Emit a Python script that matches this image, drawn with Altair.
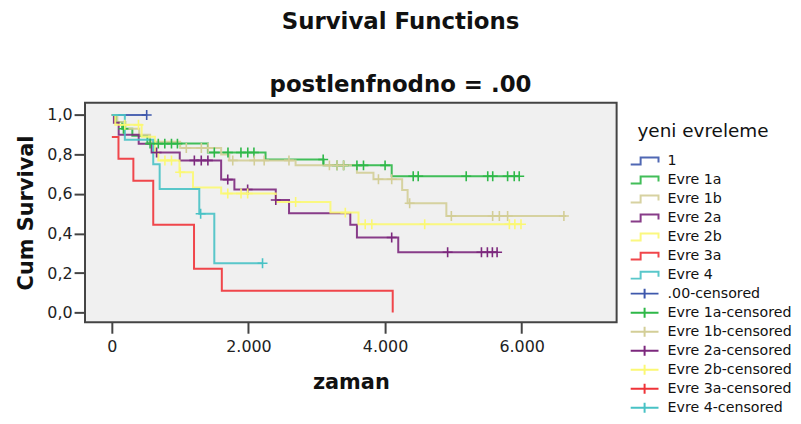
import altair as alt
import pandas as pd

groups = ["1", "Evre 1a", "Evre 1b", "Evre 2a", "Evre 2b", "Evre 3a", "Evre 4"]
censor_labels = [".00-censored", "Evre 1a-censored", "Evre 1b-censored", "Evre 2a-censored",
                 "Evre 2b-censored", "Evre 3a-censored", "Evre 4-censored"]
colors = ["#3E58AC", "#2EB848", "#D3CE97", "#7C287D", "#FBF873", "#EF3338", "#48C2C5"]

# step curves: event times and survival after each time
t_1 = [0, 510]
s_1 = [1.0, 1.0]
c_1 = [510]

t_1a = [0, 60, 150, 300, 520, 1406, 2250, 3100, 4097, 5964]
s_1a = [1.0, 0.965, 0.93, 0.895, 0.855, 0.81, 0.775, 0.745, 0.69, 0.69]
c_1a = [170, 560, 680, 775, 873, 960, 1500, 1700, 1890, 1990, 2080, 3094, 3297, 3393,
        3588, 3684, 4000, 4412, 4485, 5188, 5503, 5576, 5794, 5891, 5964]

t_1b = [0, 80, 200, 400, 560, 1000, 1600, 1720, 2690, 3588, 3830, 4250, 4330, 4897, 6650]
s_1b = [1.0, 0.965, 0.93, 0.9, 0.865, 0.833, 0.80, 0.77, 0.745, 0.707, 0.675, 0.62, 0.553, 0.489, 0.489]
c_1b = [1090, 1310, 1410, 1770, 2085, 2230, 2593, 3185, 3297, 3393, 3903, 4097, 4360,
        4970, 5575, 5673, 5794, 6618]

t_2a = [0, 30, 100, 393, 582, 994, 1600, 1794, 2400, 2594, 3491, 3588, 4193, 5640]
s_2a = [1.0, 0.96, 0.9, 0.854, 0.81, 0.77, 0.673, 0.623, 0.57, 0.503, 0.444, 0.38, 0.305, 0.305]
c_2a = [655, 1208, 1309, 1406, 1697, 1988, 2400, 4097, 4916, 5411, 5498, 5571, 5640]

t_2b = [0, 50, 436, 630, 680, 990, 1188, 1600, 2400, 3200, 3611, 6000]
s_2b = [1.0, 0.95, 0.89, 0.81, 0.77, 0.71, 0.633, 0.603, 0.56, 0.506, 0.447, 0.447]
c_2b = [190, 390, 777, 873, 1000, 1697, 1891, 1988, 2691, 3418, 3709, 3806, 4580, 5820, 5900, 5990]

t_3a = [0, 97, 315, 606, 1203, 1610, 4112]
s_3a = [0.889, 0.778, 0.667, 0.444, 0.222, 0.111, 0.0]
c_3a = []

t_4 = [0, 190, 606, 700, 1280, 1500, 2206]
s_4 = [1.0, 0.875, 0.75, 0.625, 0.5, 0.25, 0.25]
c_4 = [1300, 2206]

series = [
    (t_1, s_1, c_1), (t_1a, s_1a, c_1a), (t_1b, s_1b, c_1b), (t_2a, s_2a, c_2a),
    (t_2b, s_2b, c_2b), (t_3a, s_3a, c_3a), (t_4, s_4, c_4),
]


def surv_at(times, survs, c):
    val = survs[0]
    for t, v in zip(times, survs):
        if t <= c:
            val = v
    return val


line_rows, cens_rows = [], []
for g, cl, (ts, ss, cs) in zip(groups, censor_labels, series):
    for i, (t, s) in enumerate(zip(ts, ss)):
        line_rows.append({"t": t, "S": s, "group": g, "i": i})
    for c in cs:
        cens_rows.append({"t": c, "S": surv_at(ts, ss, c), "label": cl})

lines_df = pd.DataFrame(line_rows)
cens_df = pd.DataFrame(cens_rows)

FONT = "DejaVu Sans"

x_enc = alt.X("t:Q", scale=alt.Scale(domain=[-393, 7390], nice=False, zero=False),
              axis=alt.Axis(title="zaman", values=[0, 2000, 4000, 6000],
                            labelExpr="replace(format(datum.value, ','), ',', '.')"))
y_enc = alt.Y("S:Q", scale=alt.Scale(domain=[-0.049, 1.062], nice=False, zero=False),
              axis=alt.Axis(title="Cum Survival", values=[0, 0.2, 0.4, 0.6, 0.8, 1.0],
                            labelExpr="replace(format(datum.value, '.1f'), '.', ',')"))

step_path = "M-2.8,0.7H-0.8V-0.7H2.8V0.3"
cross_legend_path = "M-2.8,0H2.8M0,-1V1"

lines = alt.Chart(lines_df).mark_line(interpolate="step-after", strokeWidth=2, opacity=0.9).encode(
    x=x_enc, y=y_enc,
    order=alt.Order("i:Q"),
    color=alt.Color("group:N", scale=alt.Scale(domain=groups, range=colors),
                    legend=alt.Legend(title="yeni evreleme", orient="none", legendX=556, legendY=20,
                                      symbolType=step_path, symbolSize=100, symbolStrokeWidth=2,
                                      symbolFillColor="transparent", symbolOffset=0,
                                      labelOffset=16, titlePadding=13, rowPadding=3.15, padding=0,
                                      titleFont=FONT, titleFontSize=18.5, titleFontWeight="normal",
                                      titleColor="#111", labelFont=FONT, labelFontSize=14.3,
                                      labelColor="#111")),
)

crosses = alt.Chart(cens_df).mark_point(shape="M-1,0H1M0,-1V1", size=100, filled=False,
                                        strokeWidth=1.6, opacity=1).encode(
    x=x_enc, y=y_enc,
    stroke=alt.Stroke("label:N", scale=alt.Scale(domain=censor_labels, range=colors),
                      legend=alt.Legend(title=None, orient="none", legendX=556, legendY=185,
                                        symbolType=cross_legend_path, symbolSize=100,
                                        symbolStrokeWidth=2, symbolFillColor="transparent",
                                        symbolOffset=0, labelOffset=16, rowPadding=0.15, padding=0,
                                        labelFont=FONT, labelFontSize=14.3, labelColor="#111")),
)

chart = alt.layer(lines, crosses).properties(
    width=535, height=221,
    autosize="none",
    padding={"left": 77.5, "top": 94, "right": 177.5, "bottom": 93},
    title=alt.Title("Survival Functions", subtitle="postlenfnodno = .00",
                    font=FONT, fontSize=23, fontWeight="bold", color="#111",
                    subtitleFont=FONT, subtitleFontSize=23, subtitleFontWeight="bold",
                    subtitleColor="#111", anchor="middle", dx=50, offset=6,
                    subtitlePadding=40),
).configure_view(
    fill="#F0F0F0", stroke="#444", strokeWidth=2,
).configure_axis(
    grid=False, domain=False, tickSize=11, tickWidth=2, tickColor="#444",
    labelFont=FONT, labelFontSize=16, labelColor="#222",
    titleFont=FONT, titleFontSize=21, titleFontWeight="bold", titleColor="#111",
).configure_axisX(
    labelPadding=5, titlePadding=18,
).configure_axisY(
    labelPadding=2, titlePadding=10,
)

chart.save("out.html", embed_options={"renderer": "svg", "actions": False})
